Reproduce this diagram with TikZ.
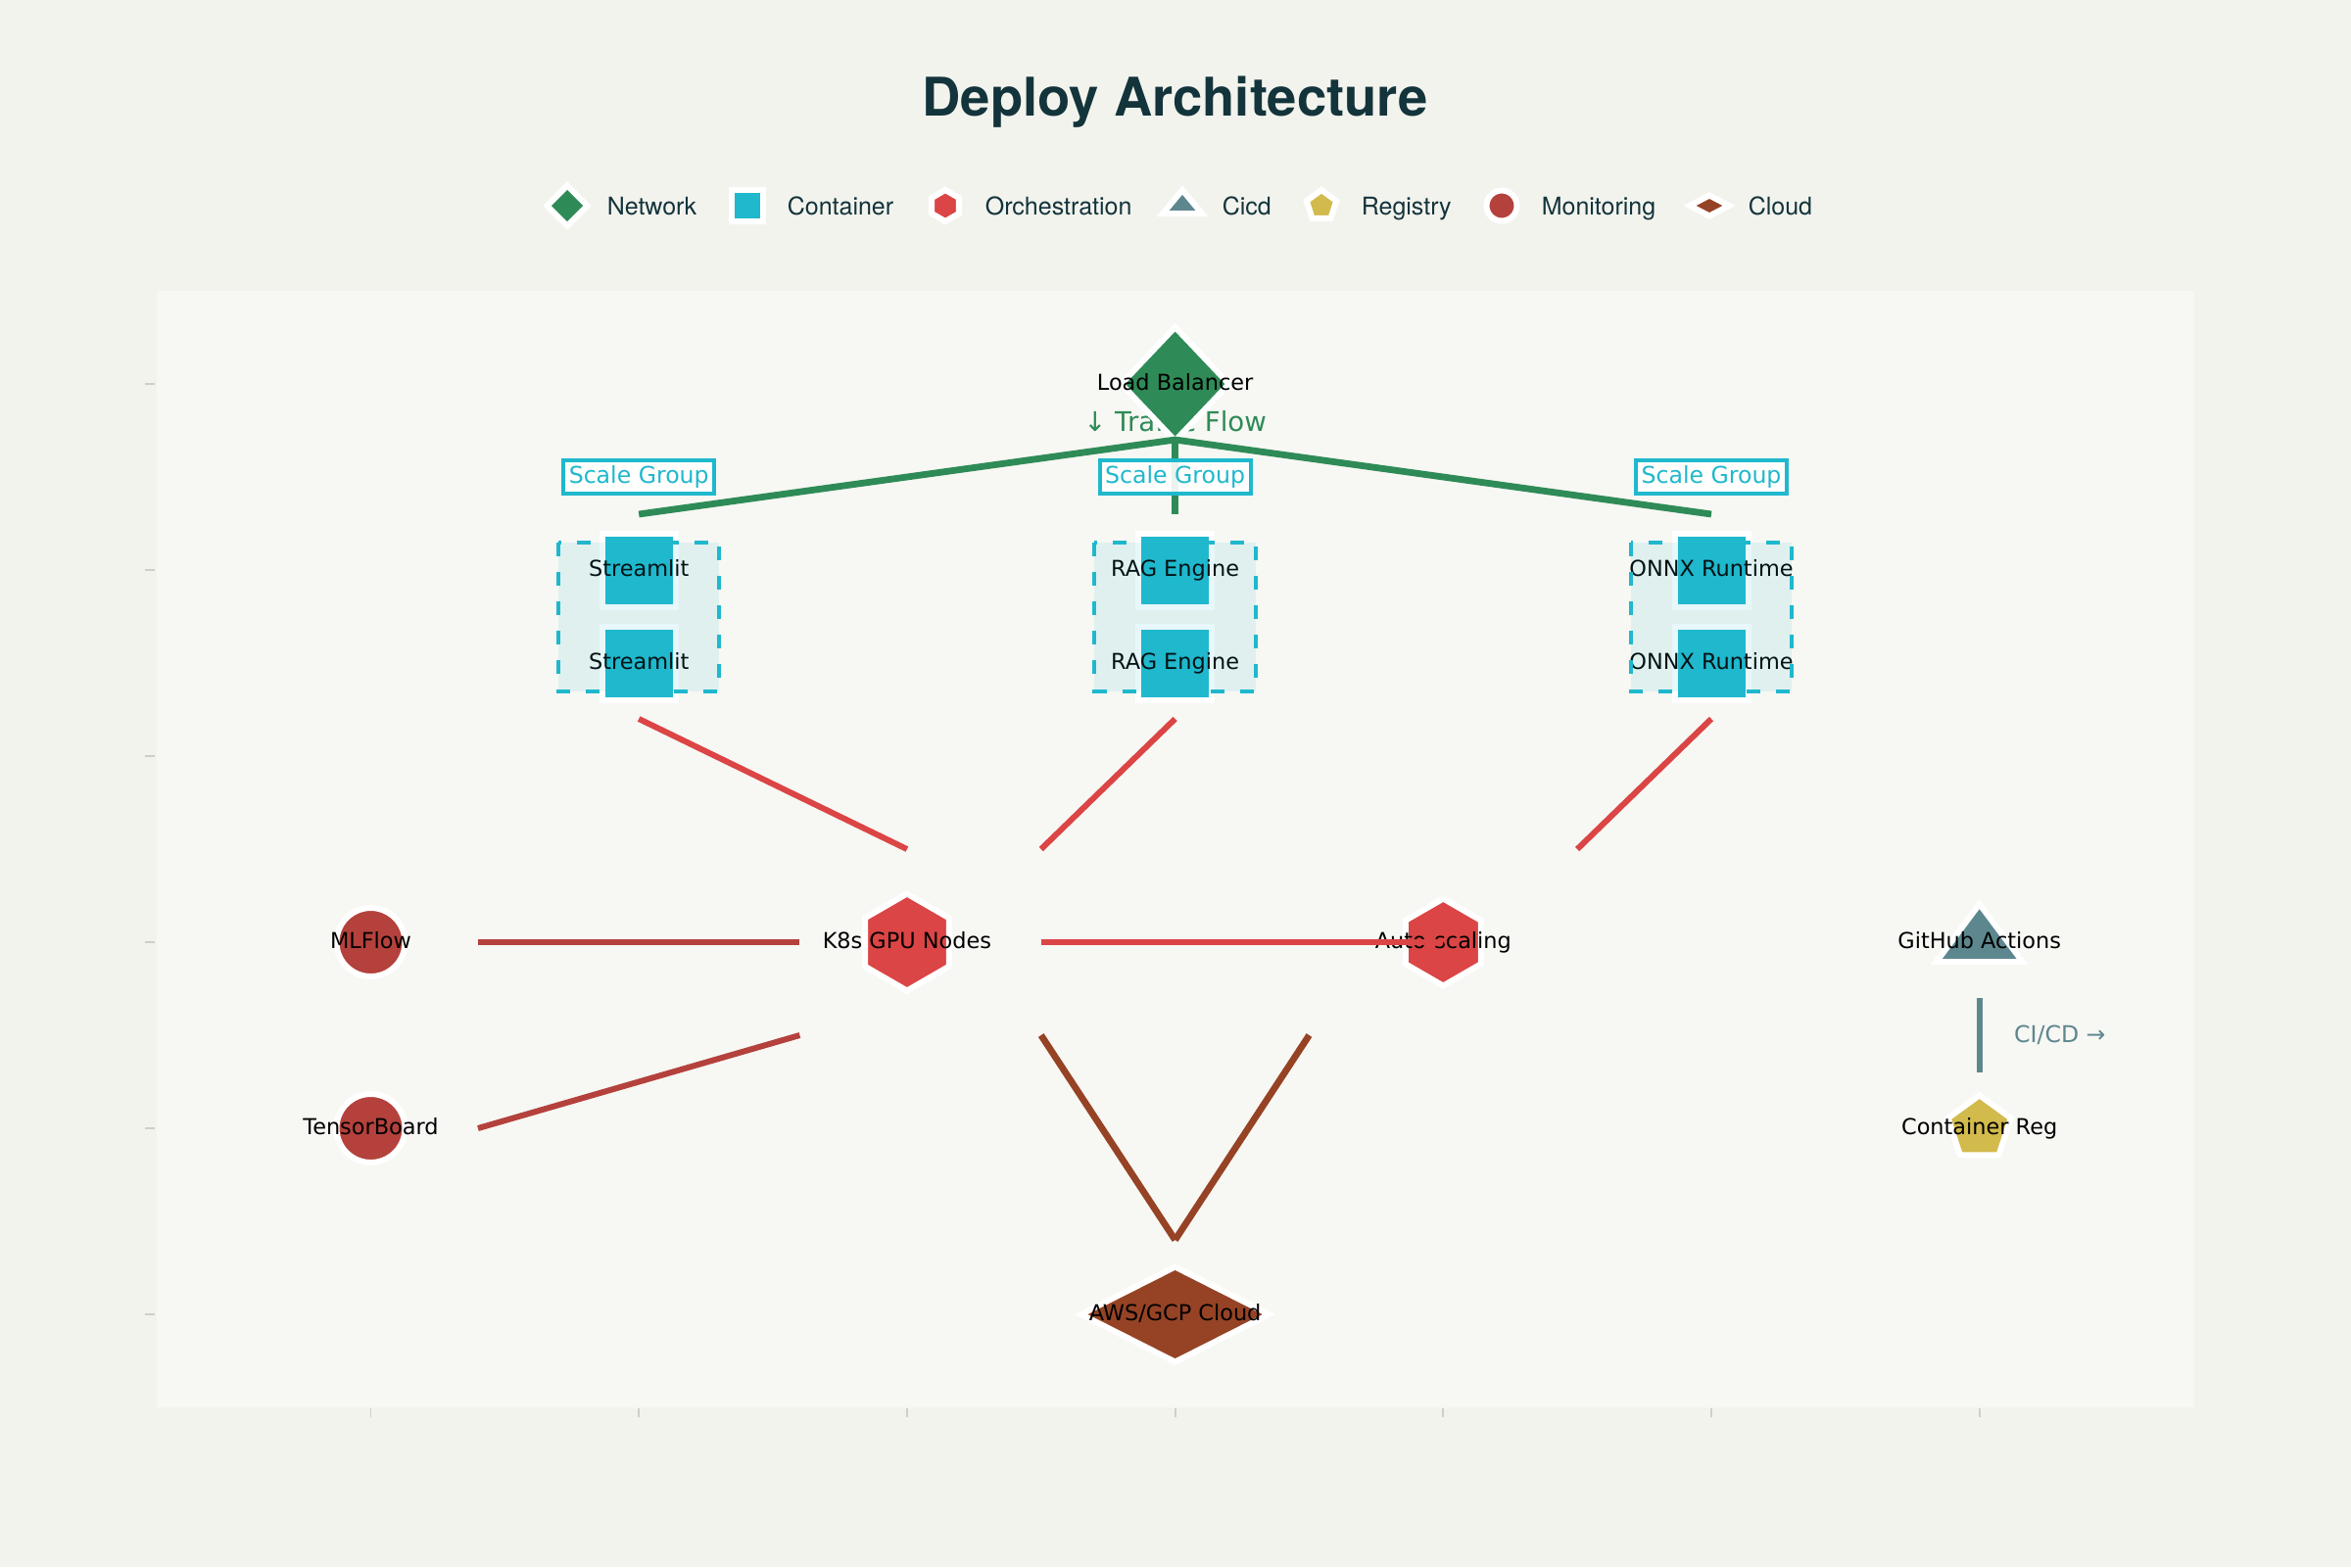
\documentclass[tikz,border=0pt]{standalone}
\usepackage{fontspec}
\setmainfont{DejaVu Sans}
\newfontfamily\heros{TeX Gyre Heros}
\usetikzlibrary{shapes.geometric}
\definecolor{bgout}{HTML}{F3F3EE}
\definecolor{bgplot}{HTML}{F7F7F3}
\definecolor{cnet}{HTML}{2E8B57}
\definecolor{ccont}{HTML}{1FB8CD}
\definecolor{corch}{HTML}{DB4545}
\definecolor{ccicd}{HTML}{5D878F}
\definecolor{creg}{HTML}{D2BA4C}
\definecolor{cmon}{HTML}{B4413C}
\definecolor{ccloud}{HTML}{964325}
\definecolor{ctitle}{HTML}{13343B}
\definecolor{ctick}{HTML}{CFCFCA}
\begin{document}
\begin{tikzpicture}[x=68.425pt, y=-47.5pt,
 shp/.style={draw=white, line width=1.5pt, inner sep=0pt, outer sep=0pt},
 lbl/.style={inner sep=0pt, text height=4.76pt, text depth=1.4pt, font=\fontsize{5.6}{6.7}\selectfont, text=black},
 legtxt/.style={inner sep=0pt, anchor=base west, text=ctitle, font=\heros\fontsize{6.25}{7.5}\selectfont},
 netshape/.style={shp, diamond, fill=cnet},
 contshape/.style={shp, rectangle, fill=ccont},
 orchshape/.style={shp, regular polygon, regular polygon sides=6, shape border rotate=30, fill=corch},
 regshape/.style={shp, regular polygon, regular polygon sides=5, fill=creg},
 monshape/.style={shp, circle, fill=cmon},
 cloudshape/.style={shp, diamond, fill=ccloud},
 cicdshape/.style={fill=ccicd, draw=white, line width=1.5pt},
 gline/.style={draw=cnet, line width=1.7pt},
 oline/.style={draw=corch, line width=1.5pt},
 mline/.style={draw=cmon, line width=1.5pt},
 cline/.style={draw=ccloud, line width=1.7pt},
 ciline/.style={draw=ccicd, line width=1.4pt},
 sglabel/.style={draw=ccont, line width=1pt, fill=white, fill opacity=0.9, text opacity=1, text=ccont, inner sep=1.4pt, font=\fontsize{5.9}{7}\selectfont},
 grouprect/.style={draw=ccont, line width=1pt, dash pattern=on 3.5pt off 4pt, fill=ccont, fill opacity=0.1},
 tickst/.style={draw=ctick, line width=0.45pt}
]
% canvas and plot area
\fill[bgout] (-1.3829,-2.0632) rectangle (7.3859,6.3579);
\useasboundingbox (-1.3829,-2.0632) rectangle (7.3859,6.3579);
\fill[bgplot] (-0.8,-0.5) rectangle (6.8,5.5);
\foreach \i in {0,...,6} \draw[tickst] (\i,5.505) -- (\i,5.553);
\foreach \j in {0,...,5} \draw[tickst] (-0.842,\j) -- (-0.806,\j);

% title
\node[font=\heros\bfseries\fontsize{13.6}{16}\selectfont, text=ctitle, anchor=base, inner sep=0pt] (title) at (3,-1.44) {Deploy Architecture};

% legend
\node[netshape, minimum width=10.25pt, minimum height=10.25pt] (lg1) at (0.7326,-0.9579) {};
\node[legtxt] (lt1) at (0.8788,-0.9105) {Network};
\node[contshape, minimum size=8pt] (lg2) at (1.4049,-0.9579) {};
\node[legtxt] (lt2) at (1.5510,-0.9105) {Container};
\node[orchshape, minimum size=8pt] (lg3) at (2.1429,-0.9579) {};
\node[legtxt] (lt3) at (2.2890,-0.9105) {Orchestration};
\coordinate (lg4) at (3.0271,-0.9579);
\filldraw[cicdshape, shift={(lg4)}] (0pt,4pt) -- (5pt,-2pt) -- (-5pt,-2pt) -- cycle;
\node[legtxt] (lt4) at (3.1732,-0.9105) {Cicd};
\node[regshape, minimum size=8pt] (lg5) at (3.5459,-0.9579) {};
\node[legtxt] (lt5) at (3.6920,-0.9105) {Registry};
\node[monshape, minimum size=7.75pt] (lg6) at (4.2182,-0.9579) {};
\node[legtxt] (lt6) at (4.3643,-0.9105) {Monitoring};
\node[cloudshape, minimum width=10pt, minimum height=5.25pt] (lg7) at (4.9927,-0.9579) {};
\node[legtxt] (lt7) at (5.1352,-0.9105) {Cloud};

% traffic flow annotation (under the load balancer)
\node[inner sep=0pt, text=cnet, font=\fontsize{6.9}{8}\selectfont] (traffic) at (3,0.2) {↓ Traffic Flow};

% load balancer
\node[netshape, minimum width=27.5pt, minimum height=29pt] (lb) at (3,0) {};

% green fan-out
\coordinate (jn) at (3,0.3);
\coordinate (g1) at (1,0.7);
\coordinate (g2) at (3,0.7);
\coordinate (g3) at (5,0.7);
\draw[gline] (g1) -- (jn) -- (g3);
\draw[gline] (jn) -- (g2);
\node[lbl] (lbl) at (lb) {Load Balancer};

% scale group labels
\node[sglabel] (sg1) at (1,0.5) {Scale Group};
\node[sglabel] (sg2) at (3,0.5) {Scale Group};
\node[sglabel] (sg3) at (5,0.5) {Scale Group};

% connectors
\coordinate (a1) at (1,1.8); \coordinate (a2) at (2,2.5);
\coordinate (b1) at (3,1.8); \coordinate (b2) at (2.5,2.5);
\coordinate (c1) at (5,1.8); \coordinate (c2) at (4.5,2.5);
\draw[oline] (a1) -- (a2);
\draw[oline] (b1) -- (b2);
\draw[oline] (c1) -- (c2);
\coordinate (m1) at (0.4,3); \coordinate (m2) at (1.6,3);
\coordinate (t1) at (0.4,4); \coordinate (t2) at (1.6,3.5);
\draw[mline] (m1) -- (m2);
\draw[mline] (t1) -- (t2);
\coordinate (k1) at (2.5,3.5); \coordinate (v1) at (3,4.6); \coordinate (s1) at (3.5,3.5);
\draw[cline] (k1) -- (v1);
\draw[cline] (s1) -- (v1);
\coordinate (ci1) at (6,3.3); \coordinate (ci2) at (6,3.7);
\draw[ciline] (ci1) -- (ci2);
\node[inner sep=0pt, text=ccicd, font=\fontsize{5.9}{7}\selectfont] (cicdtxt) at (6.3,3.5) {CI/CD →};

% containers
\node[contshape, minimum size=18.75pt] (st1) at (1,1) {};
\node[contshape, minimum size=18.75pt] (st2) at (1,1.5) {};
\node[contshape, minimum size=18.75pt] (rg1) at (3,1) {};
\node[contshape, minimum size=18.75pt] (rg2) at (3,1.5) {};
\node[contshape, minimum size=18.75pt] (on1) at (5,1) {};
\node[contshape, minimum size=18.75pt] (on2) at (5,1.5) {};
\node[lbl] (st1l) at (st1) {Streamlit};
\node[lbl] (st2l) at (st2) {Streamlit};
\node[lbl] (rg1l) at (rg1) {RAG Engine};
\node[lbl] (rg2l) at (rg2) {RAG Engine};
\node[lbl] (on1l) at (on1) {ONNX Runtime};
\node[lbl] (on2l) at (on2) {ONNX Runtime};

% orchestration
\node[orchshape, minimum size=24.75pt] (k8s) at (2,3) {};
\node[lbl] (k8sl) at (k8s) {K8s GPU Nodes};
\node[orchshape, minimum size=22.25pt] (auto) at (4,3) {};
\node[lbl] (autol) at (auto) {Auto-scaling};

% monitoring
\node[monshape, minimum size=17.5pt] (mlf) at (0,3) {};
\node[lbl] (mlfl) at (mlf) {MLFlow};
\node[monshape, minimum size=17.5pt] (tb) at (0,4) {};
\node[lbl] (tbl) at (tb) {TensorBoard};

% ci/cd and registry
\coordinate (gh) at (6,3);
\filldraw[cicdshape, shift={(gh)}] (0pt,9.75pt) -- (11pt,-5pt) -- (-11pt,-5pt) -- cycle;
\node[lbl] (ghl) at (gh) {GitHub Actions};
\node[regshape, minimum size=16.85pt] (reg) at (6,4) {};
\node[lbl] (regl) at (reg) {Container Reg};

% cloud
\node[cloudshape, minimum width=48pt, minimum height=24.25pt] (cloud) at (3,5) {};
\node[lbl] (cloudl) at (cloud) {AWS/GCP Cloud};

% scale group frames (drawn over the containers)
\draw[grouprect] (0.7,0.85) rectangle (1.3,1.65);
\draw[grouprect] (2.7,0.85) rectangle (3.3,1.65);
\draw[grouprect] (4.7,0.85) rectangle (5.3,1.65);

% k8s to auto-scaling (on top)
\coordinate (ka1) at (2.5,3);
\draw[oline] (ka1) -- (auto.center);
\end{tikzpicture}
\end{document}
